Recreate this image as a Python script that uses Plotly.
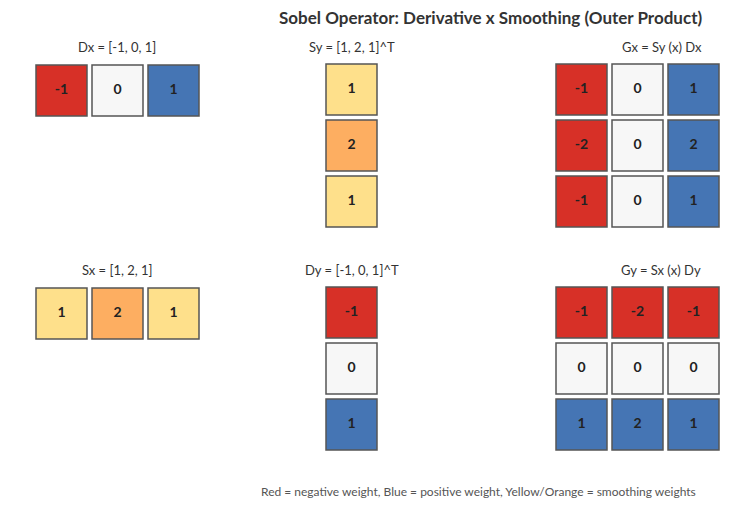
import plotly.graph_objects as go

# --- kernel values ---
dx = [[-1, 0, 1]]
sy = [[1], [2], [1]]
gx = [[-1, 0, 1], [-2, 0, 2], [-1, 0, 1]]
sx = [[1, 2, 1]]
dy = [[-1], [0], [1]]
gy = [[-1, -2, -1], [0, 0, 0], [1, 2, 1]]

titles = ["Dx = [-1, 0, 1]", "Sy = [1, 2, 1]^T", "Gx = Sy (x) Dx",
          "Sx = [1, 2, 1]", "Dy = [-1, 0, 1]^T", "Gy = Sx (x) Dy"]
kinds = ["deriv", "smooth", "deriv", "smooth", "deriv", "deriv"]

# --- layout in pixel space (x0, y0 of top-left cell, title centre x, title y) ---
panels = [
    (dx, 36, 65, 117, 47),
    (sy, 326, 64, 352, 47),
    (gx, 556, 64, 662, 47),
    (sx, 36, 288, 117, 270),
    (dy, 326, 287, 352, 270),
    (gy, 556, 287, 661, 270),
]
CELL, STEP = 51, 56
OFF = 8  # page body margin


def color(v, kind):
    if kind == "smooth":
        return "#fdae61" if v == 2 else "#fee08b"
    return {-1: "#d73027", -2: "#d73027", 0: "#f7f7f7", 1: "#4575b4", 2: "#4575b4"}[v]


fig = go.Figure()
shapes, tx, ty, tt = [], [], [], []
for (mat, x0, y0, cx, ty0), kind in zip(panels, kinds):
    for r, row in enumerate(mat):
        for c, v in enumerate(row):
            xa, ya = x0 + c * STEP, y0 + r * STEP
            shapes.append(dict(type="rect", xref="x", yref="y", x0=xa, x1=xa + CELL,
                               y0=ya, y1=ya + CELL, fillcolor=color(v, kind), layer="below",
                               line=dict(color="#555555", width=1.5)))
            tx.append(xa + CELL / 2)
            ty.append(ya + CELL / 2)
            tt.append(f"<b>{v}</b>")

fig.add_trace(go.Scatter(x=tx, y=ty, text=tt, mode="text", hoverinfo="skip",
                         textfont=dict(size=14, color="#222222")))

annotations = [dict(x=cx, y=ty0, text=t, showarrow=False, xref="x", yref="y",
                    font=dict(size=13, color="#333333"))
               for (m, x0, y0, cx, ty0), t in zip(panels, titles)]
annotations.append(dict(x=490, y=17, text="<b>Sobel Operator: Derivative x Smoothing (Outer Product)</b>",
                        showarrow=False, xref="x", yref="y", font=dict(size=17, color="#333333")))
annotations.append(dict(x=478, y=491, text="Red = negative weight, Blue = positive weight, Yellow/Orange = smoothing weights",
                        showarrow=False, xref="x", yref="y", font=dict(size=12, color="#555555")))

fig.update_layout(
    width=732, height=511, margin=dict(l=0, r=0, t=0, b=0),
    paper_bgcolor="white", plot_bgcolor="rgba(0,0,0,0)", showlegend=False,
    font=dict(family="Lato, sans-serif"),
    shapes=shapes, annotations=annotations,
    xaxis=dict(range=[OFF, 732 + OFF], visible=False, fixedrange=True),
    yaxis=dict(range=[511 + OFF, OFF], visible=False, fixedrange=True),
)

fig.write_html("out.html")
